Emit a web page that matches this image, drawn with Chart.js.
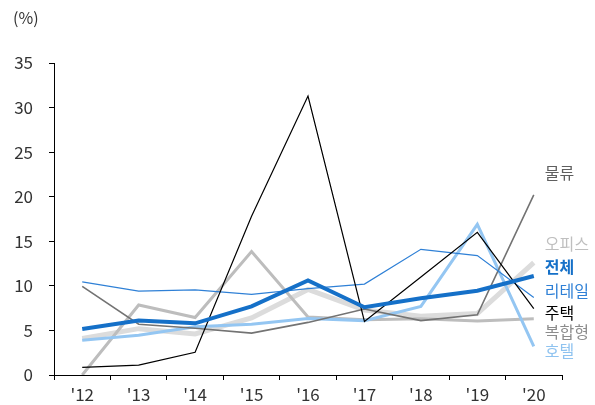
<!DOCTYPE html>
<html>
<head>
<meta charset="utf-8">
<script src="https://cdn.jsdelivr.net/npm/chart.js@4"></script>
<style>
  html, body { margin: 0; padding: 0; background: #fff; }
  #wrap { width: 595px; height: 405px; position: relative; }
</style>
</head>
<body>
<div id="wrap"><canvas id="chart"></canvas></div>
<script>
// 연도
const years = ["'12", "'13", "'14", "'15", "'16", "'17", "'18", "'19", "'20"];

// 섹터별 수익률 (%)
const total    = [5.15, 6.1, 5.8, 7.7, 10.6, 7.6, 8.6, 9.45, 11.1];
const retail   = [10.45, 9.4, 9.55, 9.05, 9.7, 10.2, 14.1, 13.4, 8.7];
const housing  = [0.85, 1.1, 2.55, 17.8, 31.3, 6.0, 11.0, 16.0, 7.45];
const logistic = [9.95, 5.7, 5.25, 4.7, 5.9, 7.4, 6.1, 6.75, 20.2];
const office   = [4.1, 5.2, 4.6, 6.4, 9.6, 7.3, 6.6, 6.9, 12.6];
const mixed    = [0.0, 7.85, 6.45, 13.85, 6.5, 6.2, 6.3, 6.05, 6.3];
const hotel    = [3.9, 4.45, 5.4, 5.7, 6.35, 6.1, 7.7, 16.9, 3.2];

// 오른쪽 이름표 (이름, 세로 위치 값)
const seriesNames = ['물류', '오피스', '전체', '리테일', '주택', '복합형', '호텔'];
const labelLevels = [22.7, 14.75, 12.15, 9.4, 7.0, 4.8, 2.75];

const yTicks = { min: 0, max: 35, step: 5 };
const FONT = '"Noto Sans CJK KR", "Noto Sans", sans-serif';

const labelColors = {
  '물류': '#5f5f5f', '오피스': '#bfbfbf', '전체': '#1570c8', '리테일': '#2f80d6',
  '주택': '#000000', '복합형': '#8c8c8c', '호텔': '#8fc3f0'
};

function line(label, data, color, width, order) {
  return {
    label, data,
    borderColor: color,
    backgroundColor: color,
    borderWidth: width,
    pointRadius: 0,
    tension: 0,
    fill: false,
    order
  };
}

const sideLabels = {
  id: 'sideLabels',
  afterDraw(chart) {
    const { ctx, scales: { x, y } } = chart;
    ctx.save();
    ctx.textBaseline = 'middle';
    ctx.textAlign = 'left';
    const lx = x.getPixelForValue(years.length - 1) + 11;
    seriesNames.forEach((name, i) => {
      ctx.font = (name === '전체' ? 'bold ' : '') + '16px ' + FONT;
      ctx.fillStyle = labelColors[name];
      ctx.fillText(name, lx, y.getPixelForValue(labelLevels[i]));
    });
    // 단위
    ctx.font = '16px ' + FONT;
    ctx.fillStyle = '#333';
    ctx.fillText('(%)', 13, 18);
    ctx.restore();
  }
};

new Chart(document.getElementById('chart'), {
  type: 'line',
  data: {
    labels: years,
    datasets: [
      line('전체', total, '#1570c8', 4, 1),
      line('주택', housing, '#000000', 1.2, 2),
      line('리테일', retail, '#2f80d6', 1.2, 3),
      line('물류', logistic, '#737373', 1.6, 4),
      line('호텔', hotel, '#94c6f2', 3, 5),
      line('복합형', mixed, '#bdbdbd', 3, 6),
      line('오피스', office, '#dcdcdc', 5, 7)
    ]
  },
  options: {
    responsive: true,
    maintainAspectRatio: false,
    animation: false,
    layout: { padding: { top: 63, right: 33, left: 0, bottom: 0 } },
    plugins: {
      legend: { display: false },
      tooltip: { enabled: false }
    },
    scales: {
      x: {
        offset: true,
        grid: { offset: true, drawOnChartArea: false, drawTicks: true, tickLength: 5, color: '#000' },
        border: { color: '#000', width: 1 },
        ticks: { color: '#333', font: { family: FONT, size: 17 }, padding: 4, maxRotation: 0 },
        afterFit(scale) { scale.height = 30; }
      },
      y: {
        min: yTicks.min,
        max: yTicks.max,
        grid: { drawOnChartArea: false, drawTicks: true, tickLength: 5, color: '#000' },
        border: { color: '#000', width: 1 },
        ticks: { stepSize: yTicks.step, color: '#333', font: { family: FONT, size: 17 }, padding: 16 },
        afterFit(scale) { scale.width = 54; }
      }
    }
  },
  plugins: [sideLabels]
});
</script>
</body>
</html>
